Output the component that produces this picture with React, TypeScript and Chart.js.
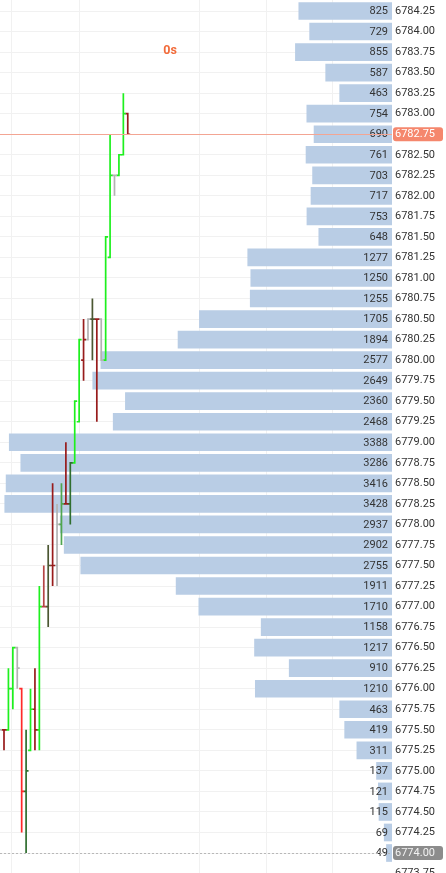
import React, { useEffect, useRef } from 'react';
import { Chart, registerables } from 'chart.js';

Chart.register(...registerables);

// ---- Volume profile (price level -> traded volume), top to bottom ----
const priceLevels = [
  6784.25, 6784.0, 6783.75, 6783.5, 6783.25, 6783.0, 6782.75, 6782.5, 6782.25, 6782.0,
  6781.75, 6781.5, 6781.25, 6781.0, 6780.75, 6780.5, 6780.25, 6780.0, 6779.75, 6779.5,
  6779.25, 6779.0, 6778.75, 6778.5, 6778.25, 6778.0, 6777.75, 6777.5, 6777.25, 6777.0,
  6776.75, 6776.5, 6776.25, 6776.0, 6775.75, 6775.5, 6775.25, 6775.0, 6774.75, 6774.5,
  6774.25, 6774.0,
];
const volumes = [
  825, 729, 855, 587, 463, 754, 690, 761, 703, 717,
  753, 648, 1277, 1250, 1255, 1705, 1894, 2577, 2649, 2360,
  2468, 3388, 3286, 3416, 3428, 2937, 2902, 2755, 1911, 1710,
  1158, 1217, 910, 1210, 463, 419, 311, 137, 121, 115,
  69, 49,
];
const priceTicks = [...priceLevels, 6773.75];

// ---- OHLC bars ----
const barIndex = [-1, 0, 1, 2, 3, 4, 5, 6, 7, 8, 9, 10, 11, 12, 13, 14, 15, 16, 17, 18, 19, 20, 21, 22, 23, 24, 25, 26, 27, 28];
const opens = [
  6777.0, 6775.5, 6775.5, 6776.0, 6776.5, 6776.0, 6774.75, 6775.25, 6775.75, 6775.5,
  6777.0, 6777.0, 6777.5, 6777.5, 6778.0, 6778.25, 6778.25, 6778.75, 6779.25, 6780.0,
  6780.25, 6780.5, 6780.5, 6780.5, 6780.0, 6781.25, 6782.25, 6782.25, 6782.5, 6783.0,
];
const highs = [
  6777.25, 6775.5, 6776.25, 6776.5, 6776.5, 6776.0, 6775.5, 6776.0, 6776.25, 6777.25,
  6777.5, 6777.75, 6778.5, 6778.25, 6778.5, 6779.0, 6778.75, 6779.5, 6780.25, 6780.5,
  6780.5, 6780.75, 6780.5, 6780.5, 6781.5, 6782.75, 6782.25, 6782.5, 6783.25, 6783.0,
];
const lows = [
  6775.5, 6775.25, 6775.5, 6775.75, 6776.0, 6774.25, 6774.0, 6775.25, 6775.25, 6775.25,
  6777.0, 6776.75, 6777.25, 6777.25, 6777.75, 6778.25, 6778.0, 6778.75, 6779.25, 6779.75,
  6780.25, 6780.0, 6779.25, 6780.0, 6780.0, 6781.25, 6782.0, 6782.25, 6782.5, 6782.75,
];
const closes = [
  6775.5, 6775.5, 6776.0, 6776.5, 6776.25, 6774.75, 6775.0, 6775.75, 6775.5, 6777.0,
  6777.0, 6777.5, 6777.5, 6778.0, 6778.25, 6778.25, 6778.75, 6779.5, 6780.25, 6780.25,
  6780.5, 6780.5, 6780.5, 6780.0, 6781.5, 6782.25, 6782.25, 6782.5, 6783.0, 6782.75,
];
const barKinds = [
  'flat', 'downWeak', 'upStrong', 'upStrong', 'flat', 'downStrong', 'upWeak', 'upStrong', 'downWeak', 'upStrong',
  'down', 'mixed', 'downWeak', 'flat', 'up', 'downWeak', 'upWeak', 'upStrong', 'upStrong', 'downWeak',
  'flat', 'mixed', 'downWeak', 'flat', 'upStrong', 'upStrong', 'flat', 'upStrong', 'upStrong', 'downWeak',
];

const lastPrice = 6782.75;
const sessionLow = 6774.0;
const timerLabel = '0s';
const timeGridTicks = [1.8, 17, 44.2, 59.4, 74.4];

// ---- styles ----
const kindColors: Record<string, string> = {
  upStrong: '#1ef01e',
  up: '#4fa64f',
  upWeak: '#2f6e2f',
  mixed: '#4b5732',
  downStrong: '#ff2a2a',
  down: '#b54545',
  downWeak: '#981c1c',
  flat: '#b3b3b3',
};
const W = 446;
const H = 900;
const VOL_MAX = 3470;
const TIME_MIN = -0.905;
const TIME_MAX = 87.78;
const Y_MAX = 6784.384;
const Y_MIN = 6773.428;
const TICK_HALF = 0.55;
const BAR_THICKNESS = 17;
const GRID = '#f1f1f1';
const FONT = 'Roboto';

function roundRect(ctx: CanvasRenderingContext2D, x: number, y: number, w: number, h: number, r: number) {
  ctx.beginPath();
  ctx.moveTo(x + r, y);
  ctx.lineTo(x + w - r, y);
  ctx.quadraticCurveTo(x + w, y, x + w, y + r);
  ctx.lineTo(x + w, y + h - r);
  ctx.quadraticCurveTo(x + w, y + h, x + w - r, y + h);
  ctx.lineTo(x + r, y + h);
  ctx.quadraticCurveTo(x, y + h, x, y + h - r);
  ctx.lineTo(x, y + r);
  ctx.quadraticCurveTo(x, y, x + r, y);
  ctx.closePath();
}

const overlayPlugin = {
  id: 'overlay',
  afterDatasetDraw(chart: any, args: any) {
    if (args.index !== 0) return;
    const ctx = chart.ctx as CanvasRenderingContext2D;
    const meta = chart.getDatasetMeta(0);
    const right = chart.scales.vol.getPixelForValue(0);
    ctx.save();
    ctx.font = `11px ${FONT}`;
    ctx.fillStyle = '#333';
    ctx.textAlign = 'right';
    ctx.textBaseline = 'middle';
    meta.data.forEach((el: any, k: number) => {
      ctx.fillText(String(volumes[k]), right - 4, el.y + 0.5);
    });
    ctx.restore();
  },
  afterDatasetsDraw(chart: any) {
    const ctx = chart.ctx as CanvasRenderingContext2D;
    const { left, right } = chart.chartArea;
    const ys = chart.scales.y;
    ctx.save();
    const yp = Math.round(ys.getPixelForValue(lastPrice)) + 0.5;
    ctx.strokeStyle = '#f3a593';
    ctx.lineWidth = 1;
    ctx.beginPath();
    ctx.moveTo(left, yp);
    ctx.lineTo(right, yp);
    ctx.stroke();
    const yl = Math.round(ys.getPixelForValue(sessionLow)) + 0.5;
    ctx.strokeStyle = '#b8b8b8';
    ctx.setLineDash([2, 2]);
    ctx.beginPath();
    ctx.moveTo(left, yl);
    ctx.lineTo(right, yl);
    ctx.stroke();
    ctx.restore();
  },
  afterDraw(chart: any) {
    const ctx = chart.ctx as CanvasRenderingContext2D;
    const ys = chart.scales.y;
    const x0 = chart.chartArea.right + 1;
    ctx.save();
    ctx.font = `11px ${FONT}`;
    ctx.textBaseline = 'middle';
    ctx.textAlign = 'left';
    const tags = [
      { v: lastPrice, bg: '#f5876d', fg: '#ffffff' },
      { v: sessionLow, bg: '#8c8c8c', fg: '#f2f2f2' },
    ];
    tags.forEach((t) => {
      const y = ys.getPixelForValue(t.v);
      ctx.fillStyle = t.bg;
      roundRect(ctx, x0, y - 7, 50, 14, 3);
      ctx.fill();
      ctx.fillStyle = t.fg;
      ctx.fillText(t.v.toFixed(2), chart.chartArea.right + 3, y + 0.5);
    });
    ctx.font = `bold 12.5px ${FONT}`;
    ctx.fillStyle = '#f26b3a';
    ctx.textAlign = 'center';
    ctx.fillText(timerLabel, 170, 51);
    ctx.restore();
  },
};

export default function App() {
  const ref = useRef<HTMLCanvasElement>(null);

  useEffect(() => {
    document.body.style.margin = '0';
    const canvas = ref.current;
    if (!canvas) return;

    const barDataset: any = {
      type: 'bar',
      indexAxis: 'y',
      xAxisID: 'vol',
      yAxisID: 'y',
      data: priceLevels.map((p, k) => ({ x: volumes[k], y: p })),
      backgroundColor: '#b9cde5',
      borderWidth: 0,
      barThickness: BAR_THICKNESS,
      grouped: false,
      order: 10,
    };

    const lineSets: any[] = barIndex.map((i, k) => ({
      type: 'line',
      indexAxis: 'x',
      xAxisID: 'time',
      yAxisID: 'y',
      data: [
        { x: i - TICK_HALF, y: opens[k] },
        { x: i, y: opens[k] },
        { x: i, y: highs[k] },
        { x: i, y: lows[k] },
        { x: i, y: closes[k] },
        { x: i + TICK_HALF, y: closes[k] },
      ],
      borderColor: kindColors[barKinds[k]],
      borderWidth: 1.7,
      pointRadius: 0,
      pointHoverRadius: 0,
      tension: 0,
      fill: false,
      borderCapStyle: 'butt',
      borderJoinStyle: 'miter',
      order: 0,
    }));

    const chart = new Chart(canvas, {
      type: 'line',
      data: { datasets: [barDataset, ...lineSets] },
      options: {
        indexAxis: 'y',
        animation: false,
        responsive: false,
        devicePixelRatio: 1,
        layout: { padding: 0 },
        plugins: { legend: { display: false }, tooltip: { enabled: false } },
        scales: {
          vol: {
            type: 'linear',
            axis: 'x',
            position: 'top',
            display: false,
            reverse: true,
            min: 0,
            max: VOL_MAX,
            offset: false,
            bounds: 'data',
          },
          time: {
            type: 'linear',
            axis: 'x',
            position: 'bottom',
            min: TIME_MIN,
            max: TIME_MAX,
            offset: false,
            bounds: 'data',
            ticks: { display: false },
            grid: { color: GRID, drawTicks: false, offset: false },
            border: { display: false },
            afterBuildTicks: (s: any) => {
              s.ticks = timeGridTicks.map((v) => ({ value: v }));
            },
            afterFit: (s: any) => {
              s.height = 0;
              s.paddingLeft = 0;
              s.paddingRight = 0;
            },
          },
          y: {
            type: 'linear',
            axis: 'y',
            position: 'right',
            min: Y_MIN,
            max: Y_MAX,
            offset: false,
            bounds: 'data',
            beginAtZero: false,
            afterBuildTicks: (s: any) => {
              s.ticks = priceTicks.map((v) => ({ value: v }));
            },
            ticks: {
              padding: 3,
              color: '#333',
              autoSkip: false,
              font: { family: FONT, size: 11 },
              callback: (v: any) => Number(v).toFixed(2),
            },
            grid: { color: GRID, drawTicks: false, offset: false },
            border: { display: false },
            afterFit: (s: any) => {
              s.width = 54;
              s.paddingTop = 0;
              s.paddingBottom = 0;
            },
          },
        },
      } as any,
      plugins: [overlayPlugin],
    });

    return () => chart.destroy();
  }, []);

  return (
    <div style={{ position: 'relative', width: W, height: 873, overflow: 'hidden' }}>
      <canvas ref={ref} width={W} height={H} style={{ display: 'block' }} />
    </div>
  );
}
